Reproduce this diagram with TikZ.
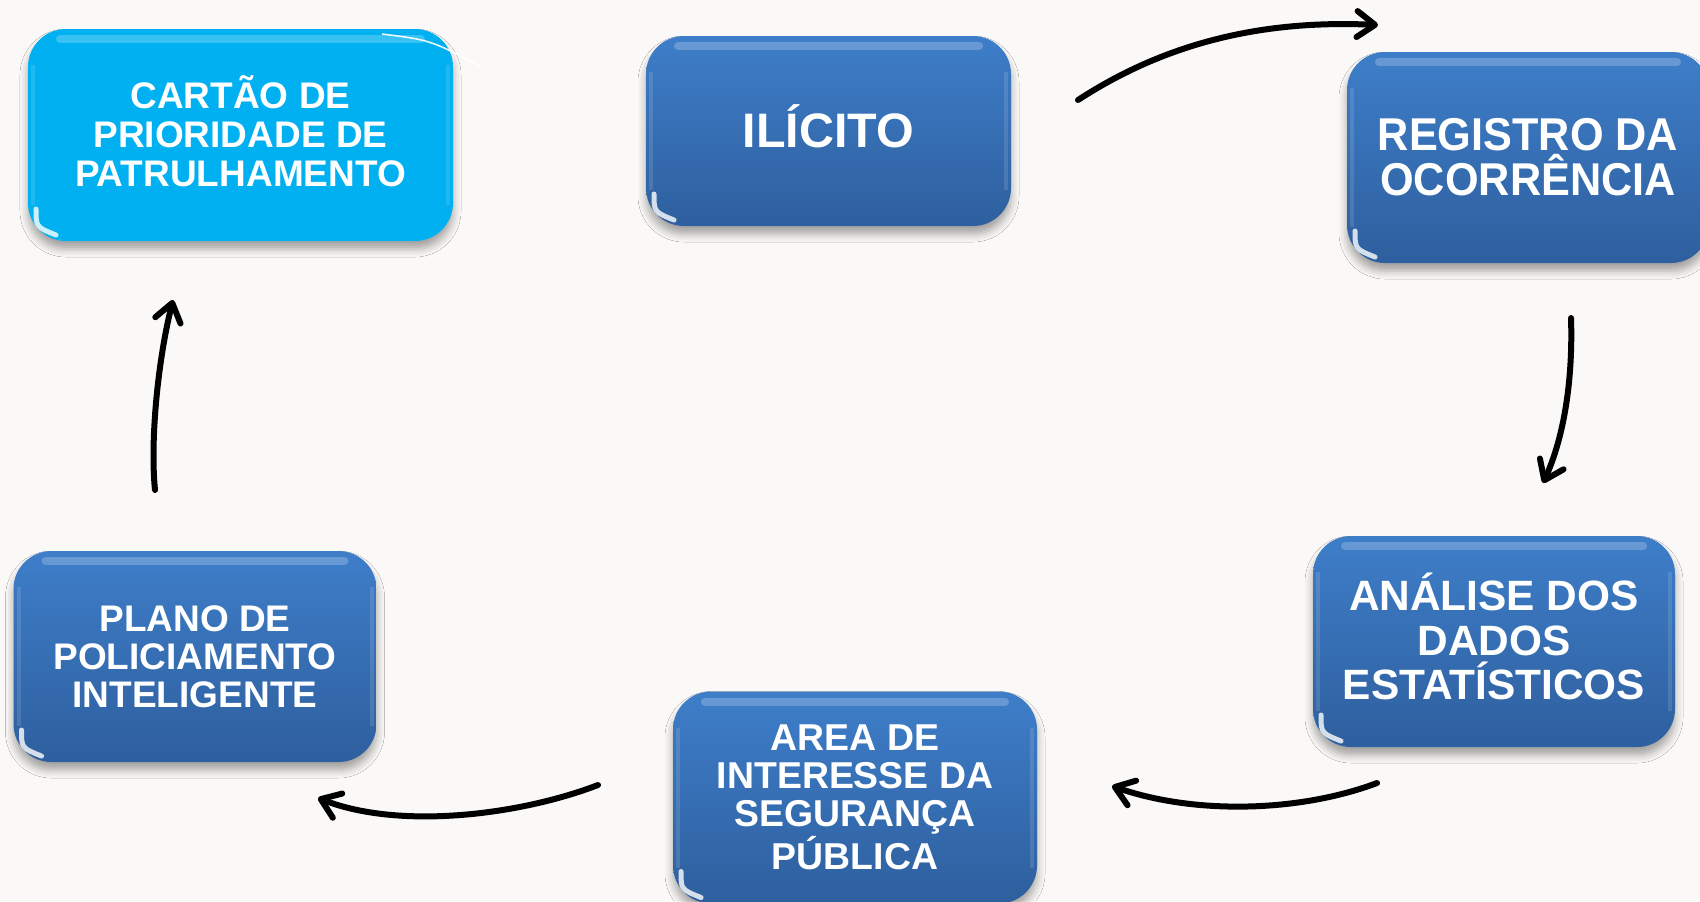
\documentclass[tikz,border=0pt]{standalone}
\usepackage{fontspec}
\setmainfont{Liberation Sans}
\newfontfamily\narrowfont[FakeStretch=0.94]{Liberation Sans}
\usetikzlibrary{arrows.meta,shadows.blur}
\definecolor{bg}{RGB}{250,249,247}
\definecolor{blueTop}{RGB}{62,126,201}
\definecolor{blueBot}{RGB}{46,95,158}
\definecolor{cyanfill}{RGB}{0,176,240}
\tikzset{
  gloss/.style={path picture={
     \draw[white, opacity=.22, line width=4pt, line cap=round] ([xshift=16pt,yshift=-5pt]path picture bounding box.north west) -- ([xshift=-16pt,yshift=-5pt]path picture bounding box.north east);
     \draw[white, opacity=.12, line width=2pt] ([xshift=2.5pt,yshift=-18pt]path picture bounding box.north west) -- ([xshift=2.5pt,yshift=18pt]path picture bounding box.south west);
     \draw[white, opacity=.12, line width=2pt] ([xshift=-2.5pt,yshift=-18pt]path picture bounding box.north east) -- ([xshift=-2.5pt,yshift=18pt]path picture bounding box.south east);
     \draw[white, opacity=.8, line width=2.5pt, line cap=round] ([xshift=4pt,yshift=16pt]path picture bounding box.south west) .. controls ([xshift=4pt,yshift=7pt]path picture bounding box.south west) .. ([xshift=14pt,yshift=3pt]path picture bounding box.south west);
  }},
  card/.style={rounded corners=19pt, inner sep=0pt, align=center, text=white,
     blur shadow={shadow xshift=0pt, shadow yshift=-4pt, shadow opacity=35, shadow blur radius=4pt}, gloss},
  bluebox/.style={card, top color=blueTop, bottom color=blueBot},
  cyancard/.style={card, fill=cyanfill},
  flow/.style={line width=3pt, line cap=round, -{Straight Barb[length=9pt,width=13pt,round]}},
}
\begin{document}
\begin{tikzpicture}[x=0.5pt, y=-0.5pt]
\useasboundingbox (0,0) rectangle (1700,901);
\clip (0,0) rectangle (1700,901);
\fill[bg] (0,0) rectangle (1700,901);

\node[cyancard, minimum width=212.5pt, minimum height=106pt, font={\bfseries\fontsize{18.5pt}{19.5pt}\selectfont}] (cartao) at (240.5,135) {CARTÃO DE\\PRIORIDADE DE\\PATRULHAMENTO\rule[-4pt]{0pt}{0pt}};
\draw[white, line width=0.8pt, opacity=.9] (382,34) .. controls (430,40) .. (480,66);

\node[bluebox, minimum width=182.5pt, minimum height=95pt, font={\bfseries\fontsize{24.2pt}{26pt}\selectfont}] (ilicito) at (828.5,131) {ILÍCITO\rule[-4.5pt]{0pt}{0pt}};

\node[bluebox, minimum width=181pt, minimum height=105.5pt, font={\narrowfont\bfseries\fontsize{23pt}{22.5pt}\selectfont}] (registro) at (1528,157.5) {REGISTRO DA\\OCORRÊNCIA};

\node[bluebox, minimum width=181pt, minimum height=105.5pt, font={\bfseries\fontsize{21.2pt}{22.2pt}\selectfont}] (analise) at (1494,641.5) {ANÁLISE DOS\\DADOS\\ESTATÍSTICOS\rule[-5pt]{0pt}{0pt}};

\node[bluebox, minimum width=182pt, minimum height=106pt, font={\bfseries\fontsize{18.7pt}{19pt}\selectfont}] (area) at (855,797.5) {AREA DE\\INTERESSE DA\\SEGURANÇA\\PÚBLICA};

\node[bluebox, minimum width=181.5pt, minimum height=105.5pt, font={\bfseries\fontsize{18.5pt}{19pt}\selectfont}] (plano) at (195,656.5) {PLANO DE\\POLICIAMENTO\\INTELIGENTE};

\coordinate (a1s) at (1078,100); \coordinate (a1e) at (1378,25);
\coordinate (a2s) at (1571,318); \coordinate (a2e) at (1543,483);
\coordinate (a3s) at (1377,783); \coordinate (a3e) at (1112,786);
\coordinate (a4s) at (598,785);  \coordinate (a4e) at (318,798);
\coordinate (a5s) at (155,490);  \coordinate (a5e) at (173,300);

\draw[flow] (a1s) .. controls (1170,40) and (1268,20) .. (a1e);
\draw[flow] (a2s) .. controls (1573,380) and (1564,437) .. (a2e);
\draw[flow] (a3s) .. controls (1300,812) and (1195,815) .. (a3e);
\draw[flow] (a4s) .. controls (520,815) and (400,830) .. (a4e);
\draw[flow] (a5s) .. controls (150,440) and (158,360) .. (a5e);
\end{tikzpicture}
\end{document}
